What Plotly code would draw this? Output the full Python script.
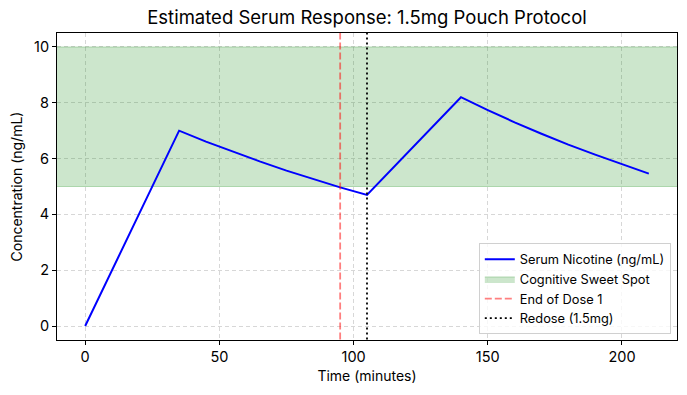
import plotly.graph_objects as go

# Estimated values
time_min = [0, 35, 45, 55, 65, 75, 85, 95, 105, 140, 150, 160, 170, 180, 190, 200, 210]
serum_ng_ml = [0.0, 7.0, 6.61, 6.25, 5.90, 5.57, 5.26, 4.97, 4.70,
               8.2, 7.74, 7.30, 6.89, 6.50, 6.14, 5.80, 5.46]
sweet_spot = [5, 10]
end_dose1 = 95
redose = 105
x_ticks = [0, 50, 100, 150, 200]
y_ticks = [0, 2, 4, 6, 8, 10]

FONT = "Inter"
x_range = [-10.5, 220.5]
y_range = [-0.5, 10.5]

fig = go.Figure()

fig.add_trace(go.Scatter(
    x=[x_range[0] - 20, x_range[1] + 20, x_range[1] + 20, x_range[0] - 20, x_range[0] - 20],
    y=[sweet_spot[0], sweet_spot[0], sweet_spot[1], sweet_spot[1], sweet_spot[0]],
    fill="toself", mode="lines",
    fillcolor="rgba(0,128,0,0.2)",
    line=dict(color="rgba(0,128,0,0.25)", width=1),
    name="Cognitive Sweet Spot", legendrank=2, hoverinfo="skip"))

fig.add_trace(go.Scatter(
    x=time_min, y=serum_ng_ml, mode="lines",
    line=dict(color="blue", width=2),
    name="Serum Nicotine (ng/mL)", legendrank=1))

fig.add_trace(go.Scatter(
    x=[end_dose1, end_dose1], y=[y_range[0] - 5, y_range[1] + 5], mode="lines",
    line=dict(color="rgba(255,0,0,0.5)", width=1.8, dash="7px,3px"),
    name="End of Dose 1", legendrank=3))

fig.add_trace(go.Scatter(
    x=[redose, redose], y=[y_range[0] - 5, y_range[1] + 5], mode="lines",
    line=dict(color="black", width=1.8, dash="2px,3px"),
    name="Redose (1.5mg)", legendrank=4))

axis_common = dict(
    showline=True, linecolor="black", linewidth=1, mirror=True,
    ticks="outside", ticklen=4, tickcolor="black", tickwidth=1,
    showgrid=True, gridcolor="rgba(176,176,176,0.5)", griddash="4px,3px", gridwidth=1,
    zeroline=False, tickfont=dict(family=FONT, size=14.5, color="black"),
    automargin=False,
)

fig.update_xaxes(range=x_range, tickvals=x_ticks,
                 title=dict(text="Time (minutes)", font=dict(family=FONT, size=14, color="black"), standoff=6),
                 **axis_common)
fig.update_yaxes(range=y_range, tickvals=y_ticks,
                 title=dict(text="Concentration (ng/mL)", font=dict(family=FONT, size=14, color="black"), standoff=8),
                 **axis_common)

fig.update_layout(
    width=687, height=395,
    margin=dict(l=57, r=10, t=33, b=55, autoexpand=False),
    paper_bgcolor="white", plot_bgcolor="white",
    title=dict(text="Estimated Serum Response: 1.5mg Pouch Protocol",
               font=dict(family=FONT, size=18.5, color="black"),
               x=0.5, xref="paper", xanchor="center", y=0.955, yanchor="middle",
               automargin=False),
    legend=dict(x=0.99, y=0.018, xanchor="right", yanchor="bottom",
                bgcolor="rgba(255,255,255,0.8)", bordercolor="#d0d0d0", borderwidth=1,
                font=dict(family=FONT, size=12.8, color="black"),
                tracegroupgap=0, itemwidth=30),
    showlegend=True,
)

fig.write_html("out.html", config={"displayModeBar": False},
               post_script="document.body.style.margin='0';document.body.style.overflow='hidden';")
